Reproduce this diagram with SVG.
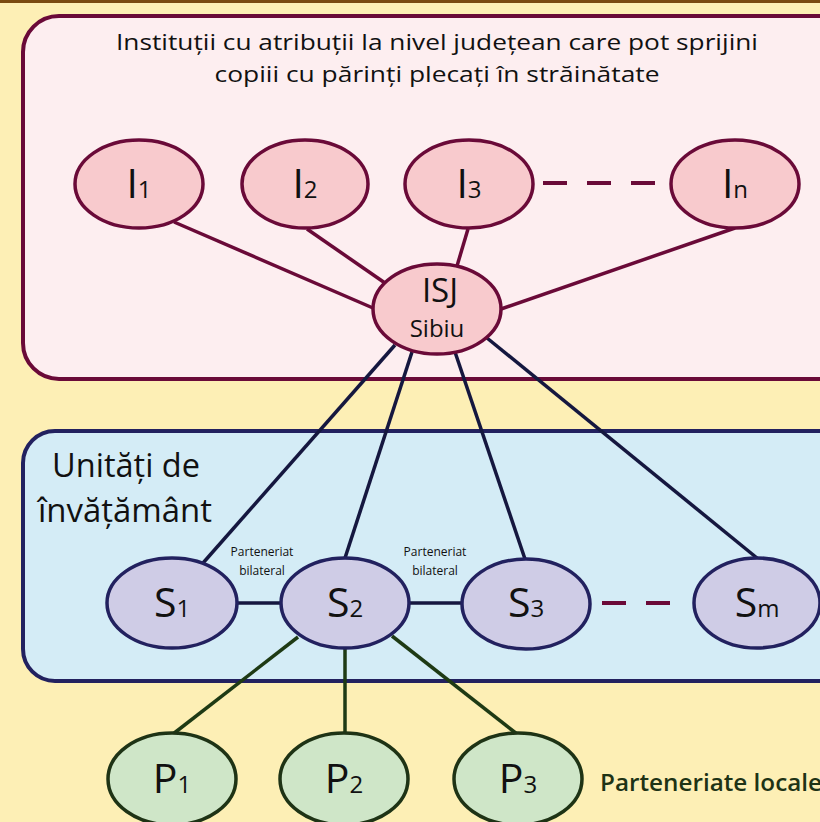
<svg xmlns="http://www.w3.org/2000/svg" width="820" height="822" viewBox="0 0 820 822">
<style>
text{font-family:"Open Sans","Liberation Sans",sans-serif;fill:#111}
.box1{fill:#fdeef0;stroke:#6a0a38;stroke-width:4}
.box2{fill:#d4ecf6;stroke:#22215f;stroke-width:4}
.ni{fill:#f8cacd;stroke:#6a0a38;stroke-width:3.5}
.ns{fill:#cfcce6;stroke:#22215f;stroke-width:3.5}
.np{fill:#cfe6c8;stroke:#1e3315;stroke-width:3.5}
.cm{stroke:#6a0a38;stroke-width:3.5;fill:none}
.cn{stroke:#15173f;stroke-width:3.5;fill:none}
.cg{stroke:#1e3a14;stroke-width:3.5;fill:none}
.dash{stroke:#6a0a38;stroke-width:4;stroke-dasharray:24 20;fill:none}
.big{font-size:41px}
.sub{font-size:24px}
.lbl{font-size:12px;text-anchor:middle}
</style>
<rect width="820" height="822" fill="#fdefb5"/>
<rect width="820" height="3" fill="#7a4a10"/>
<rect id="box-inst" class="box1" x="23" y="16" width="830" height="363" rx="36"/>
<rect id="box-unit" class="box2" x="23" y="431" width="830" height="250" rx="32"/>
<text x="437" y="50" font-size="22" text-anchor="middle" textLength="642" lengthAdjust="spacingAndGlyphs">Instituții cu atribuții la nivel județean care pot sprijini</text>
<text x="437" y="82" font-size="22" text-anchor="middle" textLength="445" lengthAdjust="spacingAndGlyphs">copiii cu părinți plecați în străinătate</text>
<text x="52" y="477" font-size="32" textLength="148" lengthAdjust="spacingAndGlyphs">Unități de</text>
<text x="38" y="522" font-size="32" textLength="174" lengthAdjust="spacingAndGlyphs">învățământ</text>
<g id="connectors">
<line class="cm" x1="174" y1="222" x2="373" y2="308"/>
<line class="cm" x1="307" y1="229" x2="385" y2="283"/>
<line class="cm" x1="468" y1="229" x2="457" y2="266"/>
<line class="cm" x1="735" y1="228" x2="501" y2="309"/>
<line class="dash" x1="543" y1="183" x2="660" y2="183"/>
<line class="cn" x1="395" y1="345" x2="203" y2="563"/>
<line class="cn" x1="412" y1="352" x2="345" y2="558"/>
<line class="cn" x1="455" y1="352" x2="525" y2="559"/>
<line class="cn" x1="487" y1="338" x2="757" y2="558"/>
<line class="cn" x1="237" y1="603" x2="281" y2="603"/>
<line class="cn" x1="410" y1="603" x2="462" y2="603"/>
<line class="dash" x1="602" y1="603" x2="690" y2="603"/>
<line class="cg" x1="298" y1="637" x2="173" y2="734"/>
<line class="cg" x1="345" y1="649" x2="345" y2="733"/>
<line class="cg" x1="392" y1="636" x2="517" y2="734"/>
</g>
<text class="lbl" x="262" y="556">Parteneriat</text>
<text class="lbl" x="262" y="575">bilateral</text>
<text class="lbl" x="435" y="556">Parteneriat</text>
<text class="lbl" x="435" y="575">bilateral</text>
<g id="I1"><ellipse class="ni" cx="139" cy="184" rx="64" ry="44"/><text x="139" y="198" text-anchor="middle"><tspan class="big">I</tspan><tspan class="sub">1</tspan></text></g>
<g id="I2"><ellipse class="ni" cx="305" cy="184" rx="63" ry="44"/><text x="305" y="198" text-anchor="middle"><tspan class="big">I</tspan><tspan class="sub">2</tspan></text></g>
<g id="I3"><ellipse class="ni" cx="469" cy="184" rx="64" ry="44"/><text x="469" y="198" text-anchor="middle"><tspan class="big">I</tspan><tspan class="sub">3</tspan></text></g>
<g id="In"><ellipse class="ni" cx="735" cy="184" rx="64" ry="44"/><text x="735" y="198" text-anchor="middle"><tspan class="big">I</tspan><tspan class="sub">n</tspan></text></g>
<g id="ISJ"><ellipse class="ni" cx="437" cy="309" rx="64" ry="45"/><text x="440" y="302" font-size="33" text-anchor="middle">ISJ</text><text x="437" y="337" font-size="24" text-anchor="middle">Sibiu</text></g>
<g id="S1"><ellipse class="ns" cx="172" cy="603" rx="65" ry="45"/><text x="172" y="617" text-anchor="middle"><tspan class="big">S</tspan><tspan class="sub">1</tspan></text></g>
<g id="S2"><ellipse class="ns" cx="345" cy="603" rx="64" ry="45"/><text x="345" y="617" text-anchor="middle"><tspan class="big">S</tspan><tspan class="sub">2</tspan></text></g>
<g id="S3"><ellipse class="ns" cx="526" cy="604" rx="64" ry="45"/><text x="526" y="617" text-anchor="middle"><tspan class="big">S</tspan><tspan class="sub">3</tspan></text></g>
<g id="Sm"><ellipse class="ns" cx="757" cy="603" rx="63" ry="45"/><text x="757" y="617" text-anchor="middle"><tspan class="big">S</tspan><tspan class="sub">m</tspan></text></g>
<g id="P1"><ellipse class="np" cx="172" cy="779" rx="64" ry="46"/><text x="172" y="793" text-anchor="middle"><tspan class="big">P</tspan><tspan class="sub">1</tspan></text></g>
<g id="P2"><ellipse class="np" cx="344" cy="779" rx="64" ry="46"/><text x="344" y="793" text-anchor="middle"><tspan class="big">P</tspan><tspan class="sub">2</tspan></text></g>
<g id="P3"><ellipse class="np" cx="518" cy="779" rx="64" ry="46"/><text x="518" y="793" text-anchor="middle"><tspan class="big">P</tspan><tspan class="sub">3</tspan></text></g>
<text x="600" y="791" font-size="24" font-weight="600" style="fill:#1e3315" textLength="222" lengthAdjust="spacingAndGlyphs">Parteneriate locale</text>
</svg>
